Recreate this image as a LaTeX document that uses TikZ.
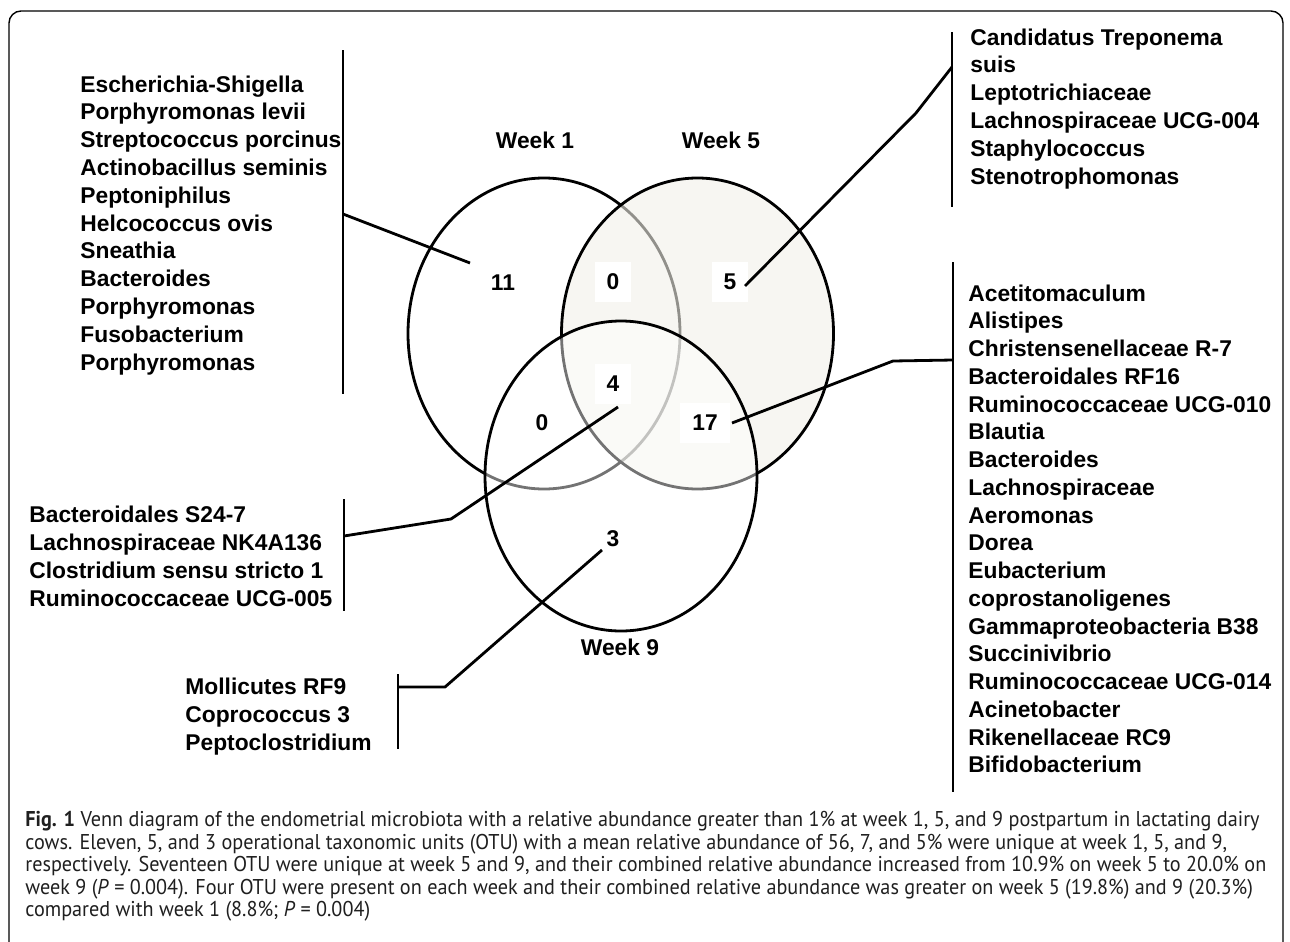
\documentclass[tikz,border=0pt]{standalone}
\usepackage{fontspec}
\setmainfont{Liberation Sans}
\newfontfamily\capfont[FakeStretch=0.944]{PT Sans}
\definecolor{wkfill}{RGB}{242,240,233}
\begin{document}
\begin{tikzpicture}[x=0.5pt, y=-0.5pt,
  lst/.style={font=\bfseries\fontsize{11.4}{13.9}\selectfont, anchor=base west, inner sep=0pt},
  wk/.style={font=\bfseries\fontsize{11.4}{13.9}\selectfont, anchor=base, inner sep=0pt},
  num/.style={font=\bfseries\fontsize{11.4}{13.9}\selectfont, fill=white, minimum width=18pt, minimum height=20pt, inner sep=0pt},
  ring/.style={line width=1.4pt},
  conn/.style={line width=1.4pt, black},
  barline/.style={line width=1.4pt, black},
  captext/.style={font=\capfont\fontsize{10.7}{11.3}\selectfont, anchor=base west, inner sep=0pt, text=black!88}]
\useasboundingbox (0,0) rectangle (1290,942);
\clip (0,0) rectangle (1290,942);
% frame
\draw[line width=0.7pt, rounded corners=6pt] (9,11) rectangle (1283,1010);
% circle centres
\coordinate (cw1) at (544,333.5);
\coordinate (cw5) at (697.5,333.5);
\coordinate (cw9) at (621,476);
% circles
\draw[ring] (cw1) ellipse [x radius=68pt, y radius=77.75pt];
\path[ring, draw=black, fill=wkfill, fill opacity=0.6] (cw5) ellipse [x radius=68pt, y radius=77.75pt];
\path[ring, draw=black, fill=white, fill opacity=0.45] (cw9) ellipse [x radius=68pt, y radius=77.5pt];
% week labels
\node[wk] (w1) at (535,148) {Week 1};
\node[wk] (w5) at (721,148) {Week 5};
\node[wk] (w9) at (620,655) {Week 9};
% numbers
\node[num] (n11) at (503,283) {11};
\node[num] (n0a) at (613,282) {0};
\node[num] (n5) at (730,282) {5};
\node[num] (n4) at (613,384) {4};
\node[num] (n0b) at (542,423) {0};
\node[num, minimum width=25pt] (n17) at (705,423) {17};
\node[num] (n3) at (613,539) {3};
% lists
\foreach \t [count=\i] in {Escherichia-Shigella, Porphyromonas levii, Streptococcus porcinus, Actinobacillus seminis, Peptoniphilus, Helcococcus ovis, Sneathia, Bacteroides, Porphyromonas, Fusobacterium, Porphyromonas}
  \node[lst] (L\i) at (80,{92+27.8*(\i-1)}) {\t};
\foreach \t [count=\i] in {Candidatus Treponema, suis, Leptotrichiaceae, Lachnospiraceae UCG-004, Staphylococcus, Stenotrophomonas}
  \node[lst] (R\i) at (970,{45+27.8*(\i-1)}) {\t};
\foreach \t [count=\i] in {Acetitomaculum, Alistipes, Christensenellaceae R-7, Bacteroidales RF16, Ruminococcaceae UCG-010, Blautia, Bacteroides, Lachnospiraceae, Aeromonas, Dorea, Eubacterium, coprostanoligenes, Gammaproteobacteria B38, Succinivibrio, Ruminococcaceae UCG-014, Acinetobacter, Rikenellaceae RC9, Bifidobacterium}
  \node[lst] (S\i) at (968,{301+27.76*(\i-1)}) {\t};
\foreach \t [count=\i] in {Bacteroidales S24-7, Lachnospiraceae NK4A136, Clostridium sensu stricto 1, Ruminococcaceae UCG-005}
  \node[lst] (B\i) at (29,{522+28*(\i-1)}) {\t};
\foreach \t [count=\i] in {Mollicutes RF9, Coprococcus 3, Peptoclostridium}
  \node[lst] (M\i) at (185,{694+28*(\i-1)}) {\t};
% bars
\coordinate (bLt) at (343,50);  \coordinate (bLb) at (343,394);
\coordinate (bRt) at (952,32);  \coordinate (bRb) at (952,207);
\coordinate (bSt) at (953,262); \coordinate (bSb) at (953,792);
\coordinate (bBt) at (344,499); \coordinate (bBb) at (344,611);
\coordinate (bMt) at (398,674); \coordinate (bMb) at (398,749);
\draw[barline] (bLt) -- (bLb);
\draw[barline] (bRt) -- (bRb);
\draw[barline] (bSt) -- (bSb);
\draw[barline] (bBt) -- (bBb);
\draw[barline] (bMt) -- (bMb);
% connector end points
\coordinate (p11) at (470,263); \coordinate (q11) at (343,214);
\coordinate (p5) at (745,286);  \coordinate (q5) at (952,67);
\coordinate (p17) at (732,423); \coordinate (q17) at (953,360);
\coordinate (p4) at (618,407);  \coordinate (q4) at (344,536);
\coordinate (p3) at (602,550);  \coordinate (q3) at (398,687);
\draw[conn] (q11) -- (p11);
\draw[conn] (p5) -- (916,113) -- (q5);
\draw[conn] (p17) -- (893,361) -- (q17);
\draw[conn] (p4) -- (451,519) -- (q4);
\draw[conn] (p3) -- (445,687) -- (q3);
% caption
\node[captext] (cap1) at (25,826.5) {{\bfseries Fig. 1} Venn diagram of the endometrial microbiota with a relative abundance greater than 1\% at week 1, 5, and 9 postpartum in lactating dairy};
\node[captext] (cap2) at (25,849) {cows. Eleven, 5, and 3 operational taxonomic units (OTU) with a mean relative abundance of 56, 7, and 5\% were unique at week 1, 5, and 9,};
\node[captext] (cap3) at (25,871.5) {respectively. Seventeen OTU were unique at week 5 and 9, and their combined relative abundance increased from 10.9\% on week 5 to 20.0\% on};
\node[captext] (cap4) at (25,894) {week 9 (\textit{P} = 0.004). Four OTU were present on each week and their combined relative abundance was greater on week 5 (19.8\%) and 9 (20.3\%)};
\node[captext] (cap5) at (25,916.5) {compared with week 1 (8.8\%; \textit{P} = 0.004)};
\end{tikzpicture}
\end{document}
